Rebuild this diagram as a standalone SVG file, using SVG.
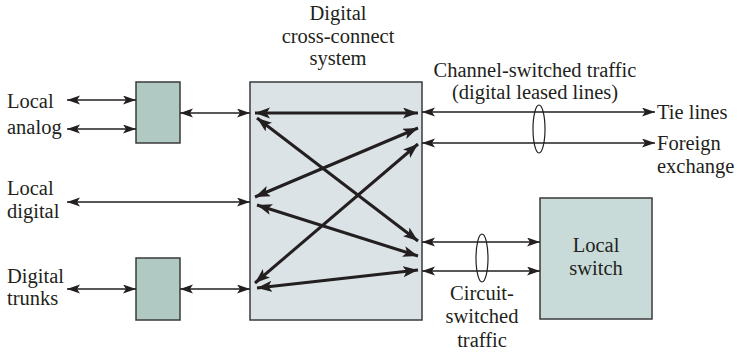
<svg xmlns="http://www.w3.org/2000/svg" width="739" height="355" viewBox="0 0 739 355">
<defs>
<marker id="a" markerUnits="userSpaceOnUse" markerWidth="14" markerHeight="10" refX="13" refY="4.5" orient="auto-start-reverse"><path d="M0,0 L13,4.5 L0,9 L3,4.5 z" fill="#231f20"/></marker>
<marker id="b" markerUnits="userSpaceOnUse" markerWidth="16" markerHeight="12" refX="15" refY="5.5" orient="auto-start-reverse"><path d="M0,0 L15,5.5 L0,11 L3.5,5.5 z" fill="#231f20"/></marker>
<style>
text{font-family:"Liberation Serif","Times New Roman",serif;font-size:20.5px;fill:#231f20}
.m{text-anchor:middle}
.t{stroke:#231f20;stroke-width:1.5;fill:none;marker-start:url(#a);marker-end:url(#a)}
.k{stroke:#231f20;stroke-width:3;fill:none;marker-start:url(#b);marker-end:url(#b)}
.e{stroke:#231f20;stroke-width:1.2;fill:none}
</style>
</defs>
<g id="dcs"><rect x="250" y="82" width="172" height="238" fill="#dce3e6" stroke="#3a3a3a" stroke-width="1.5"/>
<text class="m" x="338" y="20">Digital</text><text class="m" x="338" y="43">cross-connect</text><text class="m" x="338" y="65">system</text></g>
<g id="mux1"><rect x="136" y="82" width="44" height="61" fill="#b0c9c2" stroke="#3a3a3a" stroke-width="1.5"/></g>
<g id="mux2"><rect x="136" y="258" width="44" height="62" fill="#b0c9c2" stroke="#3a3a3a" stroke-width="1.5"/></g>
<g id="localswitch"><rect x="540" y="198" width="112" height="121" fill="#c8dbd9" stroke="#3a3a3a" stroke-width="1.5"/>
<text class="m" x="596" y="252">Local</text><text class="m" x="596" y="275">switch</text></g>
<g id="labels">
<text x="7" y="108">Local</text><text x="7" y="134">analog</text>
<text x="7" y="195">Local</text><text x="7" y="218">digital</text>
<text x="7" y="283">Digital</text><text x="7" y="305">trunks</text>
<text class="m" x="535" y="77">Channel-switched traffic</text>
<text class="m" x="535" y="99">(digital leased lines)</text>
<text x="657" y="119">Tie lines</text>
<text x="657" y="150">Foreign</text><text x="657" y="173">exchange</text>
<text class="m" x="482" y="300">Circuit-</text><text class="m" x="482" y="323">switched</text><text class="m" x="482" y="347">traffic</text>
</g>
<g id="connectors">
<line class="t" x1="67" y1="100" x2="136" y2="100"/>
<line class="t" x1="67" y1="129" x2="136" y2="129"/>
<line class="t" x1="180" y1="113" x2="250" y2="113"/>
<line class="t" x1="67" y1="202" x2="250" y2="202"/>
<line class="t" x1="67" y1="289" x2="136" y2="289"/>
<line class="t" x1="180" y1="289" x2="250" y2="289"/>
<line class="t" x1="422" y1="112" x2="655" y2="112"/>
<line class="t" x1="422" y1="143" x2="655" y2="143"/>
<line class="t" x1="422" y1="242" x2="540" y2="242"/>
<line class="t" x1="422" y1="271" x2="540" y2="271"/>
<line class="k" x1="255" y1="113" x2="418" y2="113"/>
<line class="k" x1="257" y1="118" x2="418" y2="241"/>
<line class="k" x1="255" y1="197" x2="418" y2="128"/>
<line class="k" x1="257" y1="205" x2="418" y2="256"/>
<line class="k" x1="255" y1="283" x2="418" y2="144"/>
<line class="k" x1="257" y1="288" x2="418" y2="270"/>
<ellipse class="e" cx="539" cy="129" rx="6" ry="24"/>
<ellipse class="e" cx="482" cy="258" rx="6" ry="24"/>
</g>
</svg>
